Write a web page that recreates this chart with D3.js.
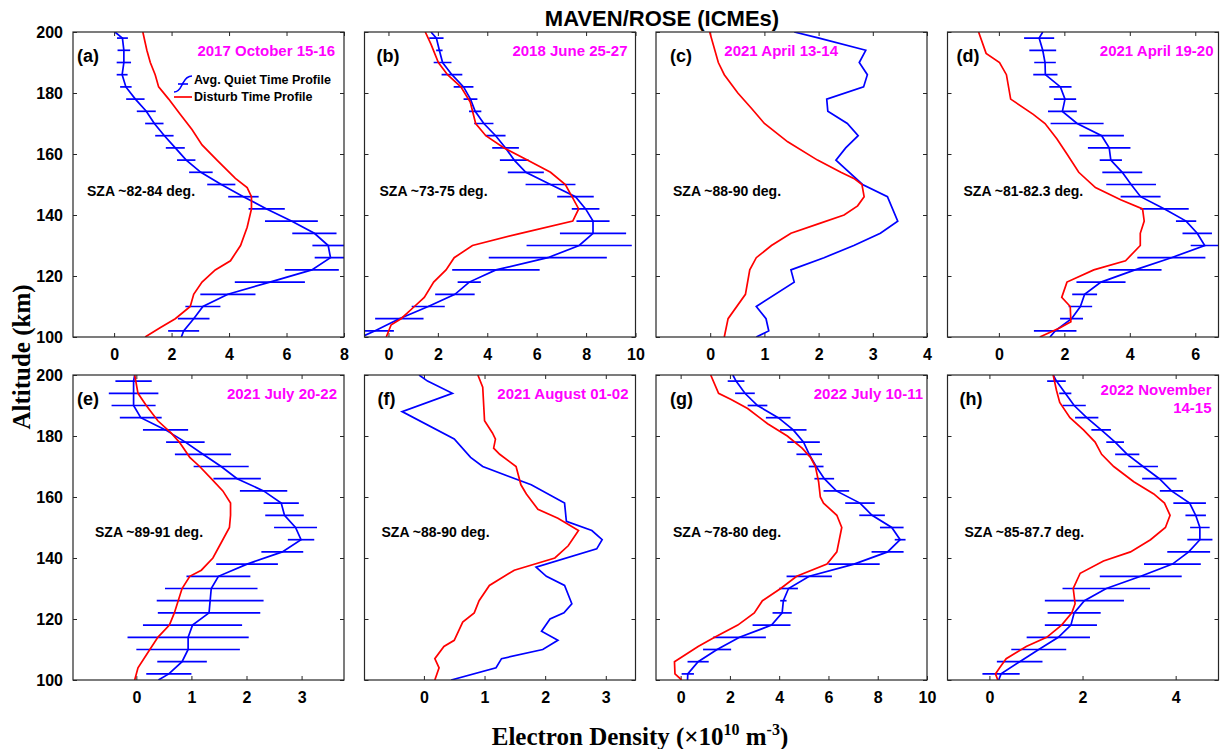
<!doctype html>
<html>
<head>
<meta charset="utf-8">
<script src="https://cdn.jsdelivr.net/npm/d3@7/dist/d3.min.js"></script>
<style>
  body { margin: 0; background: #fff; }
  .chart { font-family: "Liberation Sans", Arial, sans-serif; }
  .tick text { font-size: 16px; font-weight: 700; fill: #000; font-family: "Liberation Sans", Arial, sans-serif; }
  .tick line { stroke: #262626; stroke-width: 1; }
  .serif { font-family: "Liberation Serif", "Times New Roman", serif; font-weight: 700; }
</style>
</head>
<body>
<svg class="chart" width="1220" height="749"></svg>
<script>
// altitude grid of the averaged quiet profiles (km); ends have no error bar
const quietAlt = [200,198,194,190,186,182,178,174,170,166,162,158,154,150,146,142,138,134,130,126,122,118,114,110,106,102,100]

const quietA    = [0.03,0.29,0.34,0.34,0.28,0.41,0.74,1.12,1.40,1.75,2.13,2.51,3.02,3.73,4.50,5.31,6.17,6.97,7.45,7.53,6.88,5.42,3.96,3.09,2.77,2.42,2.34]
const quietAErr = [null,0.19,0.22,0.25,0.19,0.20,0.32,0.33,0.32,0.32,0.33,0.32,0.41,0.49,0.53,0.63,0.92,0.77,0.55,0.55,0.94,1.22,0.96,0.61,0.55,0.54,null]
const quietB    = [1.72,1.94,2.06,2.19,2.57,3.04,3.32,3.51,3.86,4.34,4.74,5.09,5.56,6.56,7.57,7.98,8.28,8.28,7.72,6.45,4.35,3.27,2.69,1.61,0.44,-0.56,-1.1]
const quietBErr = [null,0.29,0.13,0.36,0.42,0.40,0.28,0.25,0.39,0.40,0.54,0.58,0.73,1.01,0.74,0.56,0.67,1.34,2.13,2.39,1.77,0.47,0.80,0.67,0.98,0.78,null]
const quietD    = [1.34,1.23,1.34,1.41,1.42,1.88,2.02,1.94,2.39,3.14,3.37,3.42,3.77,4.04,4.33,5.06,5.72,6.06,6.29,5.27,4.16,3.12,2.62,2.49,2.22,1.72,1.56]
const quietDErr = [null,0.46,0.41,0.33,0.37,0.34,0.34,0.44,0.81,0.68,0.65,0.34,0.61,0.76,0.61,0.74,0.31,0.45,0.43,1.04,0.81,0.75,0.38,0.36,0.35,0.65,null]
const quietE    = [-0.03,-0.05,-0.05,-0.05,0.08,0.53,0.89,1.21,1.54,1.83,2.31,2.63,2.69,2.89,2.99,2.65,2.01,1.49,1.36,1.34,1.32,1.02,0.94,0.94,0.83,0.59,0.40]
const quietEErr = [null,0.33,0.45,0.40,0.38,0.41,0.35,0.51,0.50,0.43,0.43,0.32,0.35,0.39,0.24,0.38,0.56,0.58,0.84,0.97,0.93,0.90,1.10,0.94,0.45,0.41,null]
const quietG    = [2.12,2.25,2.61,3.12,3.96,4.57,4.99,5.22,5.50,5.83,6.32,7.28,7.77,8.57,8.91,8.40,7.04,5.22,4.38,4.17,4.12,3.69,2.39,1.48,0.71,0.29,0.28]
const quietGErr = [null,0.34,0.40,0.40,0.50,0.54,0.66,0.52,0.30,0.40,0.52,0.60,0.52,0.48,0.22,0.65,1.04,0.92,0.38,0.13,0.39,0.77,1.07,0.57,0.43,0.25,null]
const quietH    = [1.37,1.44,1.63,1.82,2.09,2.40,2.70,2.96,3.30,3.65,3.91,4.30,4.43,4.52,4.52,4.28,3.93,3.25,2.51,2.04,1.82,1.75,1.48,1.06,0.65,0.25,0.20]
const quietHErr = [null,0.20,0.13,0.25,0.25,0.21,0.19,0.26,0.32,0.37,0.25,0.35,0.22,0.21,0.27,0.46,0.61,0.88,0.94,0.85,0.57,0.56,0.68,0.59,0.49,0.40,null]

// quiet profiles shown without error bars (c, f)
const quietCAlt = [200,198,194,190,186,182,178,174,170,166,162,158,156,150,146,138,134,130,126,122,118,110,106,102,100]
const quietC    = [1.55,2.01,2.87,2.75,2.90,2.83,2.15,2.17,2.53,2.73,2.50,2.32,2.44,2.81,3.27,3.46,3.14,2.65,2.10,1.49,1.55,0.85,1.03,1.08,0.85]
const quietFAlt = [200,198,194,188,179,173,170,164,158,152,149,146,143,137,134,131,125,122,120,116,113,110,107,104,100]
const quietF    = [-0.08,0.06,0.47,-0.36,0.50,0.77,0.97,1.77,2.32,2.35,2.77,2.94,2.85,1.85,2.02,2.32,2.44,2.31,2.08,1.94,2.21,1.96,1.28,1.19,0.45]

// disturbed-time profiles
const distAAlt = [200,194,190,186,182,178,173,168,163,158,152,149,146,142,136,130,125,122,118,114,110,106,103,100]
const distA    = [1.00,1.14,1.26,1.43,1.55,1.90,2.30,2.71,3.06,3.58,4.22,4.63,4.78,4.78,4.63,4.40,4.05,3.52,3.06,2.77,2.65,2.13,1.60,1.08]
const distBAlt = [200,196,190,186,182,177,170,166,162,158,154,150,146,142,138,134,130,126,122,118,113,110,106,104,100]
const distB    = [1.49,1.72,2.02,2.39,2.93,3.31,3.53,3.94,4.68,5.62,6.56,7.16,7.43,7.70,7.46,5.35,3.40,2.66,2.33,1.83,1.45,1.05,0.51,0.11,-0.09]
const distCAlt = [200,190,186,180,175,170,164,158,154,152,150,146,143,140,137,134,130,126,122,114,106,100]
const distC    = [-0.01,0.15,0.26,0.51,0.76,1.00,1.43,1.98,2.41,2.65,2.80,2.84,2.72,2.47,1.98,1.49,1.13,0.85,0.73,0.65,0.33,0.26]
const distDAlt = [200,193,190,186,178,173,170,165,160,154,149,145,142,138,134,130,125,122,118,113,110,105,103,100]
const distD    = [-0.62,-0.39,0.02,0.23,0.36,1.05,1.41,1.77,2.08,2.44,2.95,3.72,4.39,4.44,4.32,4.32,3.87,2.90,2.08,1.92,2.18,2.20,1.87,1.25]
const distEAlt = [200,194,190,185,181,178,173,170,166,162,158,154,150,145,140,136,134,130,122,118,114,109,104,100]
const distE    = [-0.03,0.03,0.18,0.39,0.63,0.78,0.97,1.15,1.36,1.57,1.71,1.71,1.69,1.54,1.39,1.18,0.97,0.83,0.69,0.60,0.39,0.21,0.03,-0.03]
const distFAlt = [200,196,185,181,179,176,174,170,164,161,156,153,149,144,140,136,131,126,122,119,113,111,107,104,100]
const distF    = [0.89,0.97,1.00,1.13,1.18,1.15,1.25,1.52,1.60,1.69,1.88,2.21,2.55,2.38,2.16,1.49,1.08,0.91,0.83,0.64,0.50,0.33,0.18,0.25,0.18]
const distGAlt = [200,194,192,189,184,180,176,173,170,165,160,158,154,150,142,138,134,130,126,122,118,114,111,106,102,100]
const distG    = [1.22,1.54,2.05,2.72,3.53,4.33,4.93,5.27,5.47,5.60,5.67,5.80,6.34,6.54,6.34,5.94,4.71,4.06,3.32,2.99,2.32,1.38,0.71,-0.25,-0.23,0.04]
const distHAlt = [200,195,191,186,182,178,174,170,165,161,158,154,150,146,142,139,135,130,125,122,118,114,111,107,104,102,100]
const distH    = [1.37,1.44,1.51,1.73,2.02,2.27,2.41,2.67,3.10,3.53,3.76,3.88,3.78,3.46,3.03,2.45,1.95,1.80,1.84,1.77,1.55,1.23,0.79,0.36,0.22,0.13,0.18]

// labels and axis ranges
const panelLetters = ["(a)","(b)","(c)","(d)","(e)","(f)","(g)","(h)"]
const eventDates = [["2017 October 15-16"],["2018 June 25-27"],["2021 April 13-14"],["2021 April 19-20"],
                    ["2021 July 20-22"],["2021 August 01-02"],["2022 July 10-11"],["2022 November","14-15"]]
const szaLabels = ["SZA ~82-84 deg.","SZA ~73-75 deg.","SZA ~88-90 deg.","SZA ~81-82.3 deg.",
                   "SZA ~89-91 deg.","SZA ~88-90 deg.","SZA ~78-80 deg.","SZA ~85-87.7 deg."]
const xRanges = [[-1.43,8],[-0.97,10],[-1,4],[-1.57,6.71],[-1.15,3.77],[-0.98,3.49],[-1,10],[-0.9,4.92]]
const xTicks = [[0,2,4,6,8],[0,2,4,6,8,10],[0,1,2,3,4],[0,2,4,6],[0,1,2,3],[0,1,2,3],[0,2,4,6,8,10],[0,2,4]]
const altTicks = [100,120,140,160,180,200]

const zip = (alt, v, e) => alt.map((a, i) => ({ alt: a, v: v[i], e: e ? e[i] : null }))

const panels = [
  { quiet: zip(quietAlt, quietA, quietAErr), dist: zip(distAAlt, distA) },
  { quiet: zip(quietAlt, quietB, quietBErr), dist: zip(distBAlt, distB) },
  { quiet: zip(quietCAlt, quietC),           dist: zip(distCAlt, distC) },
  { quiet: zip(quietAlt, quietD, quietDErr), dist: zip(distDAlt, distD) },
  { quiet: zip(quietAlt, quietE, quietEErr), dist: zip(distEAlt, distE) },
  { quiet: zip(quietFAlt, quietF),           dist: zip(distFAlt, distF) },
  { quiet: zip(quietAlt, quietG, quietGErr), dist: zip(distGAlt, distG) },
  { quiet: zip(quietAlt, quietH, quietHErr), dist: zip(distHAlt, distH) }
]

// text placement, offsets relative to each panel
const letterDx = [4,12,14,9,4,13,14,12]
const szaDx = [14,15,17,16,22,17,17,17]
const dateDx = [-9,-8,-89,-5,-7,-7,-4,-7]

const svg = d3.select(".chart")
const colLeft = 73, colStep = 291.5, panelW = 271, panelH = 305
const rowTop = [32, 375]
const blue = "#0000ff", red = "#ff0000", axisCol = "#262626"

panels.forEach((p, i) => {
  const col = i % 4, row = Math.floor(i / 4)
  const x0 = colLeft + col * colStep, y0 = rowTop[row]
  const x = d3.scaleLinear().domain(xRanges[i]).range([x0, x0 + panelW])
  const y = d3.scaleLinear().domain([100, 200]).range([y0 + panelH, y0])

  const g = svg.append("g")

  // ticks on all four sides, pointing inwards
  g.append("g").attr("transform", "translate(0," + (y0 + panelH) + ")")
    .call(d3.axisBottom(x).tickValues(xTicks[i]).tickSize(-4).tickPadding(12).tickFormat(d3.format("d")))
  g.append("g").attr("transform", "translate(0," + y0 + ")")
    .call(d3.axisTop(x).tickValues(xTicks[i]).tickSize(-4).tickFormat(""))
  g.append("g").attr("transform", "translate(" + x0 + ",0)")
    .call(d3.axisLeft(y).tickValues(altTicks).tickSize(-4).tickPadding(10).tickFormat(col === 0 ? d3.format("d") : ""))
  g.append("g").attr("transform", "translate(" + (x0 + panelW) + ",0)")
    .call(d3.axisRight(y).tickValues(altTicks).tickSize(-4).tickFormat(""))
  g.selectAll(".domain").remove()

  const clipId = "clip" + i
  svg.append("clipPath").attr("id", clipId).append("rect")
    .attr("x", x0).attr("y", y0).attr("width", panelW).attr("height", panelH)

  const plot = g.append("g").attr("clip-path", "url(#" + clipId + ")")
  const line = d3.line().x(d => x(d.v)).y(d => y(d.alt))

  plot.append("path").datum(p.quiet)
    .attr("d", line).attr("fill", "none").attr("stroke", blue).attr("stroke-width", 1.7)

  plot.selectAll(".err").data(p.quiet.filter(d => d.e != null))
    .enter().append("line")
      .attr("class", "err")
      .attr("x1", d => x(d.v - d.e)).attr("x2", d => x(d.v + d.e))
      .attr("y1", d => y(d.alt)).attr("y2", d => y(d.alt))
      .attr("stroke", blue).attr("stroke-width", 1.7)

  plot.append("path").datum(p.dist)
    .attr("d", line).attr("fill", "none").attr("stroke", red).attr("stroke-width", 1.7)

  g.append("rect")
    .attr("x", x0).attr("y", y0).attr("width", panelW).attr("height", panelH)
    .attr("fill", "none").attr("stroke", axisCol).attr("stroke-width", 1.2)

  g.append("text")
    .attr("x", x0 + letterDx[i]).attr("y", y0 + 30)
    .style("font-size", "18px").style("font-weight", 700)
    .text(panelLetters[i])

  const dt = g.append("text")
    .attr("text-anchor", "end")
    .style("font-size", "15px").style("font-weight", 700).attr("fill", "#ff00ff")
  eventDates[i].forEach((s, k) => {
    dt.append("tspan").attr("x", x0 + panelW + dateDx[i])
      .attr("y", y0 + (eventDates[i].length > 1 ? 20 : 24) + k * 18).text(s)
  })

  g.append("text")
    .attr("x", x0 + szaDx[i]).attr("y", y0 + (row === 0 ? 164 : 162))
    .style("font-size", "14px").style("font-weight", 700)
    .text(szaLabels[i])

  if (i === 0) {
    const lg = g.append("g")
    lg.append("path")
      .attr("d", "M174,92 C180,92 181,86 183,83 C185,79 187,76 192,76")
      .attr("fill", "none").attr("stroke", blue).attr("stroke-width", 1.6)
    lg.append("line").attr("x1", 178).attr("x2", 188).attr("y1", 84).attr("y2", 84)
      .attr("stroke", blue).attr("stroke-width", 1.6)
    lg.append("text").attr("x", 194).attr("y", 84)
      .style("font-size", "12.5px").style("font-weight", 700).text("Avg. Quiet Time Profile")
    lg.append("line").attr("x1", 174).attr("x2", 192).attr("y1", 97).attr("y2", 97)
      .attr("stroke", red).attr("stroke-width", 1.7)
    lg.append("text").attr("x", 194).attr("y", 101)
      .style("font-size", "12.5px").style("font-weight", 700).text("Disturb Time Profile")
  }
})

svg.append("text")
  .attr("x", 662).attr("y", 26).attr("text-anchor", "middle")
  .style("font-size", "22px").style("font-weight", 700)
  .text("MAVEN/ROSE (ICMEs)")

svg.append("text")
  .attr("class", "serif")
  .attr("transform", "translate(30,357) rotate(-90)")
  .attr("text-anchor", "middle")
  .style("font-size", "25px")
  .text("Altitude (km)")

const xl = svg.append("text")
  .attr("class", "serif")
  .attr("x", 640).attr("y", 745).attr("text-anchor", "middle")
  .style("font-size", "25px")
xl.append("tspan").text("Electron Density (\u00d710")
xl.append("tspan").attr("dy", -10).style("font-size", "16px").text("10")
xl.append("tspan").attr("dy", 10).text(" m")
xl.append("tspan").attr("dy", -10).style("font-size", "16px").text("-3")
xl.append("tspan").attr("dy", 10).text(")")
</script>
</body>
</html>
